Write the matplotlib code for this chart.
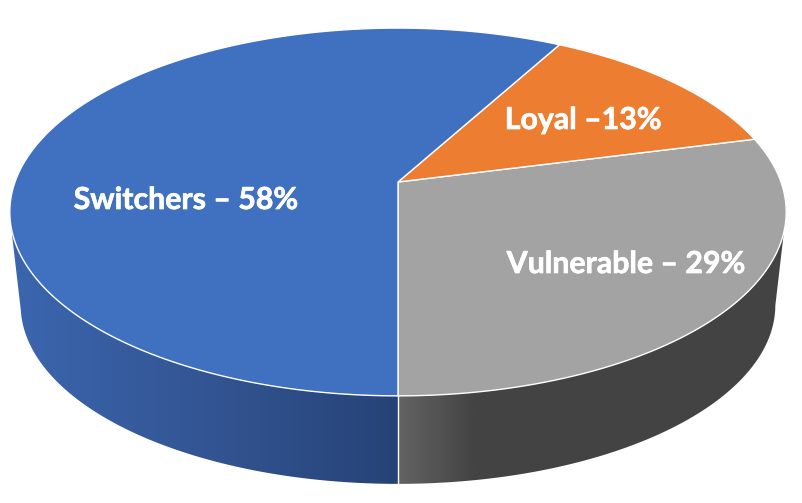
# 3D looking pie, drawn by hand since matplotlib has no perspective pie
import numpy as np
import matplotlib.pyplot as plt
import matplotlib.patheffects as pe
from matplotlib.colors import LinearSegmentedColormap
from matplotlib.patches import Polygon

labels = ["Vulnerable – 29%", "Loyal –13%", "Switchers – 58%"]
values = [29, 13, 58]
colors = ["#A3A3A3", "#ED7D31", "#4070C0"]
label_pos = [(626, 264), (583, 120), (186, 200)]

# perspective of the top face, in pixels
cx, cy = 398, 182
rx, ry = 383, 179
persp = 0.163
depth = 94
shrink = 0.972


def project(t, scale=1.0, dy=0.0):
    u, v = np.cos(t), np.sin(t)
    d = 1 + persp * v
    return cx + scale * rx * u / d, cy + dy - scale * ry * v / d


def wall(t0, t1, cmap, x0, x1):
    t = np.linspace(t0, t1, 200)
    xt, yt = project(t)
    xb, yb = project(t[::-1], shrink, depth)
    pts = np.column_stack([np.r_[xt, xb], np.r_[yt, yb]])
    poly = Polygon(pts, closed=True, fc="none", ec="none", transform=ax.transData)
    ax.add_patch(poly)
    grad = np.linspace(0, 1, 256).reshape(1, -1)
    im = ax.imshow(grad, cmap=cmap, extent=(x0, x1, 503, 0), aspect="auto", zorder=1)
    im.set_clip_path(poly)


fig = plt.figure(figsize=(8.02, 5.03), dpi=100)
ax = fig.add_axes([0, 0, 1, 1])

blue_side = LinearSegmentedColormap.from_list("b", ["#3B66AF", "#335593", "#264377"])
gray_side = LinearSegmentedColormap.from_list("g", ["#636363", "#434343", "#434343", "#434343", "#434343", "#434343"])

front = -np.pi / 2
wall(np.radians(191), 3 * np.pi / 2, blue_side, 10, 398)
wall(-np.pi / 2, np.radians(-9.5), gray_side, 398, 785)

# slices run counter clockwise from the front
angles = front + np.cumsum([0] + values) / sum(values) * 2 * np.pi
for a0, a1, col in zip(angles[:-1], angles[1:], colors):
    t = np.linspace(a0, a1, 200)
    x, y = project(t)
    pts = np.column_stack([np.r_[cx, x], np.r_[cy, y]])
    ax.add_patch(Polygon(pts, closed=True, fc=col, ec="white", lw=1.0, zorder=2))

# divider on the side
x_f, y_f = project(front)
x_b, y_b = project(front, shrink, depth)
ax.plot([x_f, x_b], [y_f, y_b], color="white", lw=1.0, zorder=2)

for lab, pos in zip(labels, label_pos):
    ax.text(pos[0], pos[1], lab, color="white", fontsize=21.8, fontweight="bold",
            family="Lato", ha="center", va="center", zorder=3,
            path_effects=[pe.withStroke(linewidth=0.5, foreground="white")])

ax.set_xlim(0, 802)
ax.set_ylim(503, 0)
ax.axis("off")
fig.savefig("out.png", dpi=100)
